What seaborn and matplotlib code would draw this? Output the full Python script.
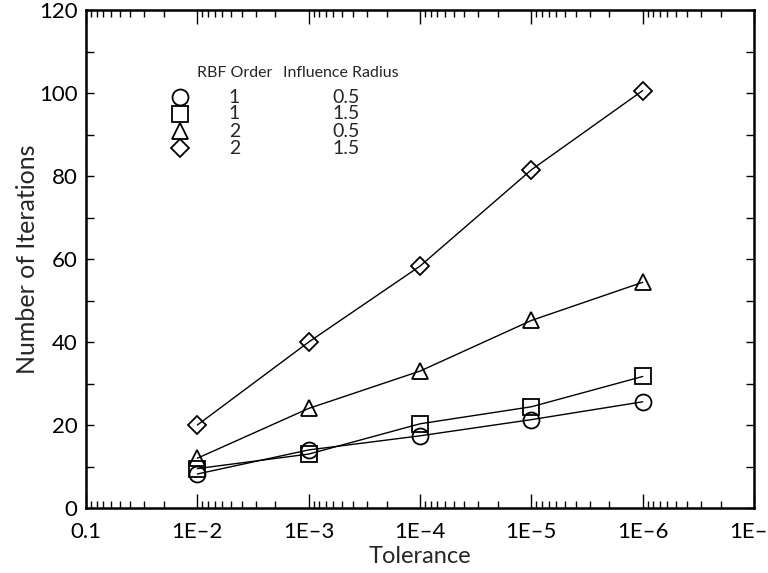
"""
Iterations vs tolerance for RBF order / influence radius combinations
"""
import numpy as np
import pandas as pd
import matplotlib

matplotlib.use("Agg")
import matplotlib.pyplot as plt
import matplotlib.transforms as mtransforms
import seaborn as sns
from matplotlib.ticker import FixedLocator, LogLocator, MultipleLocator, NullFormatter

tolerance = [1e-2, 1e-3, 1e-4, 1e-5, 1e-6]
iters_o1_r05 = [8.2, 14.0, 17.4, 21.3, 25.6]
iters_o1_r15 = [9.5, 13.0, 20.3, 24.4, 31.7]
iters_o2_r05 = [12.0, 24.0, 33.0, 45.2, 54.4]
iters_o2_r15 = [20.0, 40.0, 58.3, 81.5, 100.6]

rbf_order = ["1", "1", "2", "2"]
influence_radius = ["0.5", "1.5", "0.5", "1.5"]
markers = ["o", "s", "^", "D"]
marker_sizes = [11.5, 11, 11, 9]

x_ticks = [1e-1, 1e-2, 1e-3, 1e-4, 1e-5, 1e-6, 1e-7]
x_tick_labels = ["0.1", "1E\u20132", "1E\u20133", "1E\u20134", "1E\u20135", "1E\u20136", "1E\u2013"]

sns.set_style("ticks")
plt.rcParams["font.family"] = ["Lato", "DejaVu Sans"]

fig = plt.figure(figsize=(7.68, 5.73), dpi=100)
ax = fig.add_axes([0.112, 0.1134, 0.8698, 0.869])

series = [iters_o1_r05, iters_o1_r15, iters_o2_r05, iters_o2_r15]
for vals, mk, ms in zip(series, markers, marker_sizes):
    df = pd.DataFrame({"tol": tolerance, "it": vals})
    sns.lineplot(
        data=df, x="tol", y="it", ax=ax, color="black", linewidth=1.0,
        marker=mk, markersize=ms, markerfacecolor="none",
        markeredgecolor="black", markeredgewidth=1.3,
    )

ax.set_xscale("log")
ax.set_xlim(1e-1, 1e-7)
ax.set_ylim(0, 120)
ax.xaxis.set_major_locator(FixedLocator(x_ticks))
ax.set_xticks(x_ticks)
ax.set_xticklabels(x_tick_labels)
ax.xaxis.set_minor_locator(LogLocator(base=10, subs=np.arange(2, 10), numticks=20))
ax.xaxis.set_minor_formatter(NullFormatter())
ax.yaxis.set_major_locator(MultipleLocator(20))
ax.yaxis.set_minor_locator(MultipleLocator(10))

for side in ["top", "right", "bottom", "left"]:
    ax.spines[side].set_visible(True)
    ax.spines[side].set_linewidth(1.8)
    ax.spines[side].set_color("black")

ax.tick_params(axis="both", which="both", direction="in", top=True, right=True,
               colors="black", width=1.0)
ax.tick_params(axis="x", which="major", length=10, labelsize=16, pad=10)
ax.tick_params(axis="x", which="minor", length=5)
ax.tick_params(axis="y", which="both", length=6, labelsize=16, pad=6)
ax.tick_params(axis="y", which="minor", labelleft=False)

# last tick label sits against the figure edge, nudge it in a little
last = ax.get_xticklabels()[-1]
last.set_transform(last.get_transform()
                   + mtransforms.ScaledTranslation(-6 / 100, 0, fig.dpi_scale_trans))

ax.set_xlabel("Tolerance", fontsize=17, labelpad=3)
ax.set_ylabel("Number of Iterations", fontsize=18, labelpad=0)

# legend drawn as a small table
ax.text(0.222, 0.873, "RBF Order", transform=ax.transAxes, ha="center", va="center",
        fontsize=11.5)
ax.text(0.382, 0.873, "Influence Radius", transform=ax.transAxes, ha="center",
        va="center", fontsize=11.5)
row_y = [0.825, 0.792, 0.757, 0.723]
for y, mk, ms, o, r in zip(row_y, markers, marker_sizes, rbf_order, influence_radius):
    ax.plot([0.141], [y], transform=ax.transAxes, marker=mk, markersize=ms,
            markerfacecolor="none", markeredgecolor="black", markeredgewidth=1.3,
            linestyle="none", clip_on=False)
    ax.text(0.222, y, o, transform=ax.transAxes, ha="center", va="center", fontsize=14)
    ax.text(0.39, y, r, transform=ax.transAxes, ha="center", va="center", fontsize=14)

fig.savefig("out.png", dpi=100)
